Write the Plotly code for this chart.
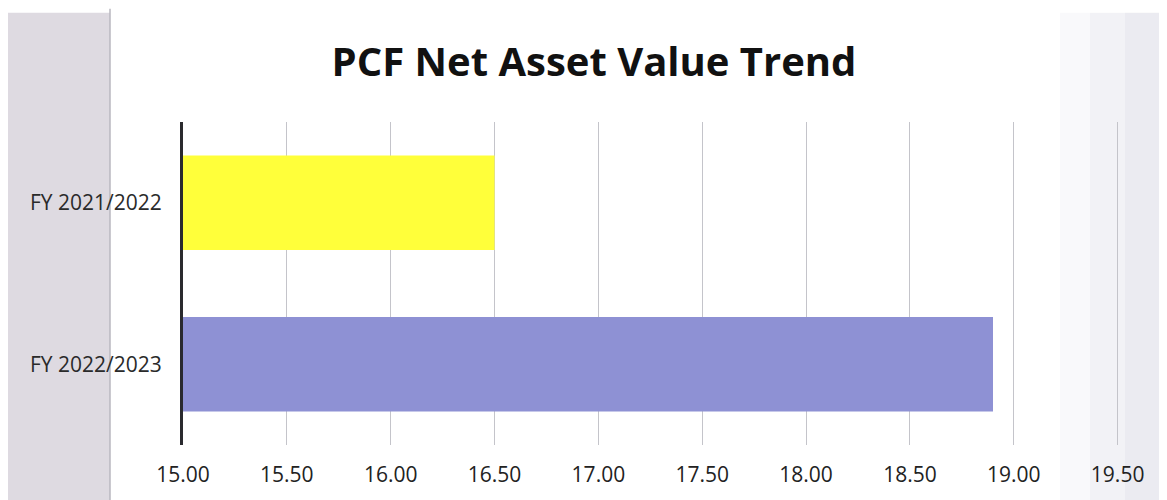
import plotly.graph_objects as go

categories = ["FY 2021/2022", "FY 2022/2023"]
nav_values = [16.50, 18.90]
bar_colors = ["#ffff3a", "#8e91d4"]
tick_vals = [15.0, 15.5, 16.0, 16.5, 17.0, 17.5, 18.0, 18.5, 19.0, 19.5]
tick_text = ["15.00", "15.50", "16.00", "16.50", "17.00", "17.50", "18.00", "18.50", "19.00", "19.50"]

# page body has an 8px margin, so the figure is laid out 8px in from the window edge
OFF = 8
W, H = 1167 - OFF, 500 - OFF
L, R, T, B = 183 - OFF, 39, 122 - OFF, 53
PW, PH = W - L - R, H - T - B

def px_x(px):
    return (px - OFF - L) / PW

def px_y(py):
    return 1 - (py - OFF - T) / PH

fig = go.Figure()
fig.add_trace(go.Bar(
    y=categories, x=nav_values, orientation="h",
    marker=dict(color=bar_colors, line=dict(width=0)),
    width=0.585, showlegend=False,
))

shapes = [
    dict(type="rect", xref="paper", yref="paper", x0=px_x(8), x1=px_x(110), y0=px_y(520), y1=px_y(12),
         fillcolor="#dedae1", line=dict(width=0), layer="below"),
    dict(type="rect", xref="paper", yref="paper", x0=px_x(1060), x1=px_x(1180), y0=px_y(520), y1=px_y(12),
         fillcolor="rgba(200,198,214,0.10)", line=dict(width=0), layer="below"),
    dict(type="rect", xref="paper", yref="paper", x0=px_x(1090), x1=px_x(1180), y0=px_y(520), y1=px_y(12),
         fillcolor="rgba(200,198,214,0.12)", line=dict(width=0), layer="below"),
    dict(type="rect", xref="paper", yref="paper", x0=px_x(1125), x1=px_x(1180), y0=px_y(520), y1=px_y(12),
         fillcolor="rgba(200,198,214,0.14)", line=dict(width=0), layer="below"),
    dict(type="line", xref="paper", yref="paper", x0=px_x(110), x1=px_x(110), y0=px_y(520), y1=px_y(8),
         line=dict(color="#b9b7bf", width=1.5), layer="below"),
]

fig.update_layout(
    width=W, height=H,
    margin=dict(l=L, r=R, t=T, b=B),
    paper_bgcolor="white", plot_bgcolor="rgba(0,0,0,0)",
    shapes=shapes,
    title=dict(text="<b>PCF Net Asset Value Trend</b>", x=px_x(594), xanchor="center", xref="paper",
               y=1 - (62 - OFF) / H, yanchor="middle", yref="container",
               font=dict(family="Open Sans", size=40, color="#111111")),
    xaxis=dict(range=[15, 19.55], tickvals=tick_vals, ticktext=tick_text,
               showgrid=True, gridcolor="#c4c4ca", gridwidth=1,
               zeroline=False, showline=False,
               ticks="outside", ticklen=11, tickcolor="rgba(0,0,0,0)",
               tickfont=dict(family="Open Sans", size=21, color="#222222")),
    yaxis=dict(autorange="reversed", showgrid=False, zeroline=False,
               showline=True, linecolor="#2a2a2e", linewidth=3,
               ticks="outside", ticklen=14, tickcolor="rgba(0,0,0,0)",
               tickfont=dict(family="Open Sans", size=21, color="#2a2a2a")),
)

fig.write_html("out.html")
